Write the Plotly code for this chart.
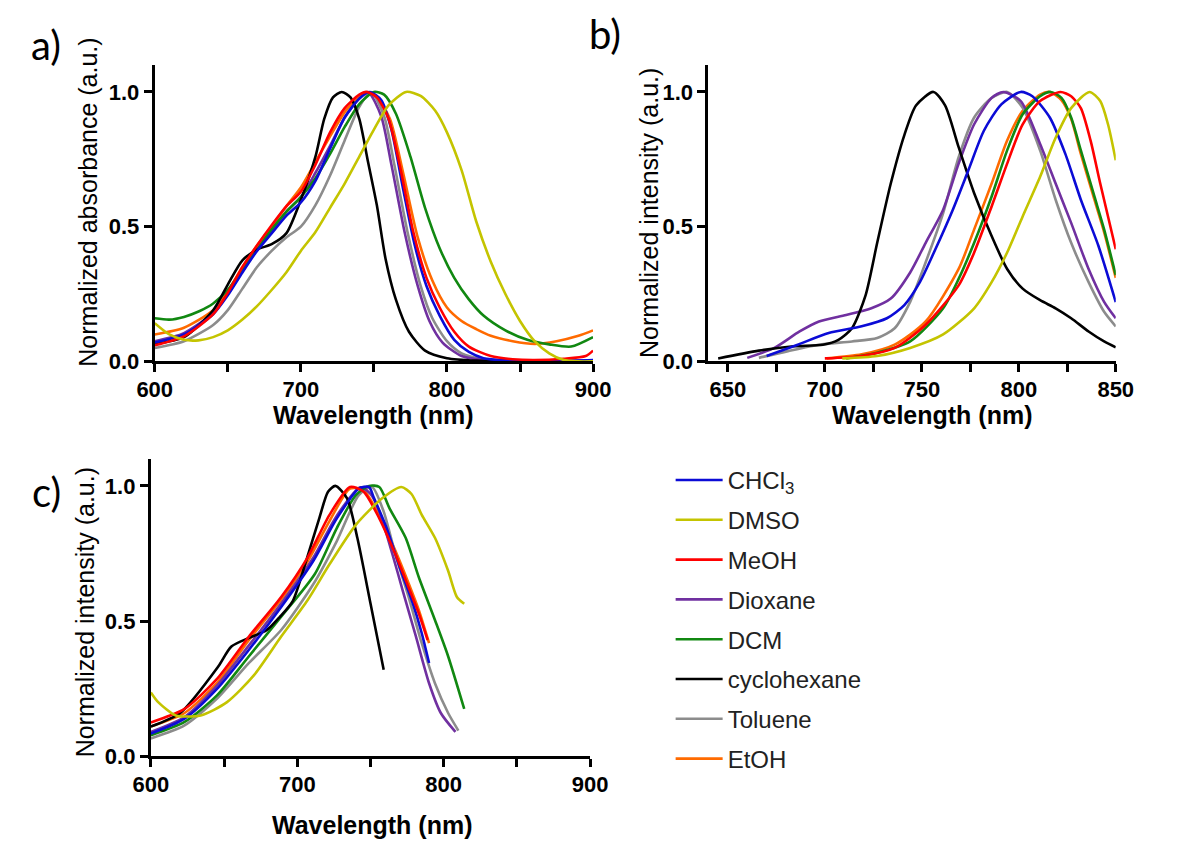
import plotly.graph_objects as go

# ---------------- series meta ----------------
solvents = ["CHCl<sub>3</sub>", "DMSO", "MeOH", "Dioxane", "DCM", "cyclohexane", "Toluene", "EtOH"]
colors = ["#0b0bd6", "#c4c400", "#ff0000", "#7030a0", "#118811", "#000000", "#8c8c8c", "#ff6a00"]

# ---------------- panel a: normalized absorbance ----------------
a_chcl3_wl = [600, 620, 640, 650, 660, 670, 680, 690, 700, 710, 720, 730, 740, 747, 755, 762, 770, 778, 786, 795, 805, 815, 825, 840, 860, 880, 900]
a_chcl3 = [.07, .1, .175, .245, .33, .41, .475, .54, .59, .67, .79, .905, .975, 1.0, .97, .86, .64, .43, .28, .17, .08, .035, .012, .004, .002, .002, .005]

a_dmso_wl = [600, 610, 620, 630, 640, 650, 660, 670, 680, 690, 700, 710, 720, 730, 740, 750, 760, 772, 782, 792, 800, 810, 820, 830, 840, 850, 860, 870, 880, 890, 900]
a_dmso = [.142, .1, .08, .078, .09, .115, .155, .205, .265, .33, .41, .48, .57, .66, .76, .86, .95, 1.0, .985, .93, .85, .71, .52, .37, .25, .15, .075, .03, .005, 0, 0]

a_meoh_wl = [600, 620, 640, 650, 660, 670, 680, 690, 700, 710, 720, 730, 740, 745, 752, 760, 768, 777, 786, 795, 805, 815, 830, 845, 860, 880, 895, 900]
a_meoh = [.06, .093, .175, .255, .35, .43, .505, .575, .63, .73, .85, .94, .99, 1.0, .98, .9, .72, .48, .31, .2, .11, .055, .02, .008, .005, .01, .02, .04]

a_diox_wl = [600, 620, 640, 650, 660, 670, 680, 690, 700, 710, 720, 730, 740, 746, 755, 762, 771, 780, 788, 797, 810, 825, 840, 900]
a_diox = [.075, .105, .18, .25, .335, .415, .485, .555, .61, .7, .8, .905, .975, 1.0, .91, .73, .48, .28, .15, .07, .02, .005, .002, .002]

a_dcm_wl = [600, 610, 620, 630, 640, 650, 660, 670, 680, 690, 700, 710, 720, 730, 740, 750, 757, 765, 775, 785, 795, 805, 815, 825, 840, 855, 870, 885, 900]
a_dcm = [.16, .155, .165, .185, .215, .265, .34, .415, .49, .555, .61, .68, .77, .87, .955, 1.0, .99, .92, .76, .57, .42, .31, .23, .17, .115, .08, .063, .055, .09]

a_chex_wl = [600, 620, 640, 650, 660, 670, 680, 690, 700, 710, 716, 722, 728, 734, 740, 746, 752, 758, 765, 774, 785, 800, 820, 900]
a_chex = [.065, .09, .19, .285, .375, .415, .435, .475, .6, .76, .9, .98, 1.0, .98, .9, .74, .58, .38, .23, .11, .04, .012, .003, 0]

a_tol_wl = [600, 620, 640, 650, 660, 670, 680, 690, 700, 710, 720, 730, 740, 748, 757, 764, 773, 782, 790, 800, 810, 825, 840, 900]
a_tol = [.05, .075, .135, .19, .27, .35, .41, .46, .5, .58, .69, .82, .945, 1.0, .91, .73, .48, .28, .16, .075, .03, .008, .003, .002]

a_etoh_wl = [600, 620, 640, 650, 660, 670, 680, 690, 700, 710, 720, 730, 740, 745, 752, 761, 770, 780, 790, 800, 810, 820, 830, 845, 860, 875, 890, 900]
a_etoh = [.1, .125, .19, .26, .35, .43, .5, .575, .645, .74, .835, .925, .985, 1.0, .98, .9, .7, .46, .3, .2, .15, .12, .095, .075, .065, .075, .095, .115]

# ---------------- panel b: normalized emission intensity ----------------
b_chcl3_wl = [670, 686, 702, 719, 732, 741, 749, 757, 766, 774, 782, 791, 801, 807, 816, 824, 832, 841, 850]
b_chcl3 = [.02, .062, .105, .13, .16, .209, .294, .416, .563, .709, .856, .954, 1.0, .984, .905, .77, .6, .43, .22]

b_dmso_wl = [709, 727, 744, 761, 777, 786, 794, 802, 811, 819, 827, 836.5, 842, 846, 850]
b_dmso = [.011, .02, .05, .1, .197, .294, .404, .538, .685, .83, .94, 1.0, .966, .88, .746]

b_meoh_wl = [700, 719, 736, 752, 769, 777, 786, 794, 802, 811, 821.5, 827, 832, 837, 842, 850]
b_meoh = [.011, .02, .05, .136, .282, .404, .575, .734, .88, .966, 1.0, .984, .94, .82, .66, .416]

b_diox_wl = [660, 674, 687, 697, 711, 724, 734, 744, 752, 761, 769, 777, 786, 792, 801, 811, 819, 827, 836, 844, 850]
b_diox = [.013, .05, .111, .148, .172, .197, .233, .33, .44, .563, .734, .88, .978, 1.0, .966, .807, .66, .514, .343, .221, .16]

b_dcm_wl = [711, 727, 744, 761, 769, 777, 786, 794, 802, 811, 816.5, 822, 827, 832, 839, 844, 850]
b_dcm = [.011, .032, .074, .197, .306, .44, .612, .783, .917, .984, 1.0, .978, .905, .783, .612, .49, .32]

b_chex_wl = [645, 666, 684, 699, 707, 714, 721, 727, 734, 741, 747, 756, 762, 769, 777, 786, 794, 802, 811, 819, 827, 836, 844, 850]
b_chex = [.011, .04, .056, .062, .08, .123, .245, .44, .66, .84, .95, 1.0, .95, .795, .624, .465, .343, .27, .227, .197, .16, .111, .074, .052]

b_tol_wl = [666, 681, 697, 714, 727, 736, 744, 752, 761, 769, 777, 786, 794, 802, 811, 819, 827, 836, 844, 850]
b_tol = [.013, .038, .062, .074, .087, .123, .221, .368, .55, .758, .905, .978, 1.0, .941, .783, .6, .44, .294, .184, .13]

b_etoh_wl = [701, 719, 736, 752, 769, 777, 786, 794, 802, 811, 816, 822, 827, 832, 839, 844, 850]
b_etoh = [.011, .026, .062, .148, .343, .49, .66, .82, .93, .99, 1.0, .97, .9, .77, .6, .48, .31]

# ---------------- panel c: normalized intensity ----------------
c_chcl3_wl = [600, 623, 645, 667, 689, 711, 727, 742, 749, 752, 761, 770, 779, 785, 790]
c_chcl3 = [.084, .139, .248, .394, .552, .723, .88, .99, .996, .96, .844, .698, .564, .455, .345]

c_dmso_wl = [600, 605, 617, 634, 652, 670, 689, 707, 722, 740, 758, 771, 778, 785, 794, 803, 809, 814]
c_dmso = [.236, .2, .151, .151, .2, .297, .443, .577, .71, .856, .954, .996, .97, .893, .808, .686, .589, .564]

c_meoh_wl = [600, 623, 645, 667, 689, 707, 722, 736, 745, 756, 767, 776, 783, 789]
c_meoh = [.125, .175, .285, .443, .589, .735, .893, .996, .98, .88, .747, .625, .528, .43]

c_diox_wl = [600, 623, 645, 667, 689, 711, 727, 743, 750, 756, 765, 772, 781, 790, 798, 808]
c_diox = [.09, .145, .26, .41, .565, .735, .89, .995, .97, .905, .747, .613, .443, .27, .16, .09]

c_dcm_wl = [600, 623, 645, 667, 689, 712, 727, 740, 749, 756, 763, 774, 783, 794, 803, 814]
c_dcm = [.078, .127, .224, .37, .516, .674, .844, .966, 1.0, .996, .917, .808, .662, .504, .37, .175]

c_chex_wl = [600, 620, 646, 655, 668, 679, 688, 697, 706, 715, 721, 726, 734, 741, 750, 759]
c_chex = [.11, .16, .332, .406, .44, .466, .515, .575, .722, .88, .978, 1.0, .954, .808, .565, .32]

c_tol_wl = [600, 623, 645, 667, 689, 711, 727, 742, 751, 759, 767, 776, 785, 794, 803, 810]
c_tol = [.066, .114, .212, .345, .467, .637, .796, .966, .996, .905, .747, .589, .418, .27, .16, .095]

c_etoh_wl = [600, 623, 645, 667, 689, 707, 722, 736, 745, 756, 767, 776, 783, 790]
c_etoh = [.11, .16, .27, .43, .58, .72, .87, .99, .985, .89, .76, .64, .54, .418]

panel_a = [(a_chcl3_wl, a_chcl3), (a_dmso_wl, a_dmso), (a_meoh_wl, a_meoh), (a_diox_wl, a_diox),
           (a_dcm_wl, a_dcm), (a_chex_wl, a_chex), (a_tol_wl, a_tol), (a_etoh_wl, a_etoh)]
panel_b = [(b_chcl3_wl, b_chcl3), (b_dmso_wl, b_dmso), (b_meoh_wl, b_meoh), (b_diox_wl, b_diox),
           (b_dcm_wl, b_dcm), (b_chex_wl, b_chex), (b_tol_wl, b_tol), (b_etoh_wl, b_etoh)]
panel_c = [(c_chcl3_wl, c_chcl3), (c_dmso_wl, c_dmso), (c_meoh_wl, c_meoh), (c_diox_wl, c_diox),
           (c_dcm_wl, c_dcm), (c_chex_wl, c_chex), (c_tol_wl, c_tol), (c_etoh_wl, c_etoh)]

# drawing order (bottom -> top); legend order kept via legendrank
draw_order = [7, 6, 3, 4, 5, 0, 2, 1]

fig = go.Figure()
for panel, (xa, ya) in zip([panel_a, panel_b, panel_c], [("x", "y"), ("x2", "y2"), ("x3", "y3")]):
    for i in draw_order:
        wl, val = panel[i]
        fig.add_trace(go.Scatter(
            x=wl, y=val, mode="lines", xaxis=xa, yaxis=ya,
            line=dict(color=colors[i], width=2.6, shape="spline", smoothing=0.7),
            name=solvents[i], legendgroup=solvents[i], legendrank=i + 1,
            showlegend=(xa == "x"),
        ))

FONT = "Arial, Liberation Sans, sans-serif"
tickfont = dict(family=FONT, size=22, color="black", weight="bold")
xtitlefont = dict(family=FONT, size=25, color="black", weight="bold")
ytitlefont = dict(family=FONT, size=25, color="black")

common = dict(showline=True, linewidth=3, linecolor="black", ticks="outside", ticklen=8, tickwidth=3,
              tickcolor="black", showgrid=False, zeroline=False, tickfont=tickfont, fixedrange=True)
minor_style = dict(ticks="outside", ticklen=8, tickwidth=3, tickcolor="black", showgrid=False)
yspec = dict(range=[0, 1.1], tickmode="linear", tick0=0, dtick=0.5, tickformat=".1f")

W, H = 1190, 849
fig.update_layout(
    width=W, height=H, margin=dict(l=0, r=0, t=0, b=0),
    paper_bgcolor="white", plot_bgcolor="white",
    xaxis=dict(domain=[141 / W, 593 / W], range=[600, 900], tickmode="linear", tick0=600, dtick=100,
               minor=dict(tick0=600, dtick=50, **minor_style), anchor="y", ticklabelstandoff=-2, **common),
    yaxis=dict(domain=[1 - 367 / H, 1 - 66 / H], anchor="x", **yspec, **common),
    xaxis2=dict(domain=[712 / W, 1132 / W], range=[640, 850], tickmode="linear", tick0=650, dtick=50,
                minor=dict(tick0=650, dtick=25, **minor_style), anchor="y2", ticklabelstandoff=-2, **common),
    yaxis2=dict(domain=[1 - 367 / H, 1 - 66 / H], anchor="x2", **yspec, **common),
    xaxis3=dict(domain=[137 / W, 590 / W], range=[600, 900], tickmode="linear", tick0=600, dtick=100,
                minor=dict(tick0=600, dtick=50, **minor_style), anchor="y3", ticklabelstandoff=-2, **common),
    yaxis3=dict(domain=[1 - 768 / H, 1 - 466 / H], anchor="x3", **yspec, **common),
    legend=dict(x=673 / W, y=1 - 465 / H, xanchor="left", yanchor="top",
                font=dict(family=FONT, size=24, color="#222222"),
                tracegroupgap=5.6, itemwidth=47, bgcolor="rgba(0,0,0,0)", traceorder="grouped"),
    showlegend=True,
)

# axis titles (placed to match the reference layout)
titles = [
    ("Wavelength (nm)", 366, 421, 0, xtitlefont),
    ("Wavelength (nm)", 942, 421, 0, xtitlefont),
    ("Wavelength (nm)", 365, 838, 0, xtitlefont),
    ("Normalized absorbance (a.u.)", 72, 205, -90, ytitlefont),
    ("Normalized intensity (a.u.)", 650, 216, -90, ytitlefont),
    ("Normalized intensity (a.u.)", 70, 622, -90, ytitlefont),
]
for txt, px, py, ang, fnt in titles:
    fig.add_annotation(text=txt, x=px / W, y=1 - py / H, xref="paper", yref="paper", textangle=ang,
                       showarrow=False, font=fnt, xanchor="center", yanchor="middle")

label_font = dict(family="Lato, Carlito, sans-serif", size=40, color="black")
for txt, px, py in [("a)", 29, 46), ("b)", 605, 35), ("c)", 29, 500)]:
    fig.add_annotation(text=txt, x=px / W, y=1 - py / H, xref="paper", yref="paper",
                       showarrow=False, font=label_font, xanchor="center", yanchor="middle")

fig.write_html("out.html", config={"displayModeBar": False},
               post_script="document.body.style.margin='0';document.body.style.overflow='hidden';")
